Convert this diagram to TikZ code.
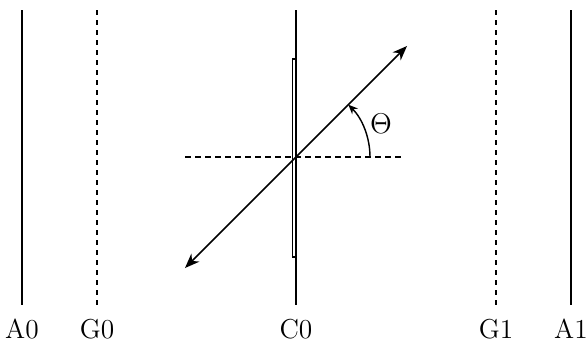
\documentclass[tikz,border=0pt]{standalone}
\usepackage{amsmath}
\usepackage{tikz}
\usetikzlibrary{arrows.meta}
\tikzset{
  wall/.style={line width=0.55pt},
  gapline/.style={line width=0.55pt,dash pattern=on 2.1pt off 2.1pt},
  axisline/.style={line width=0.55pt,dash pattern=on 2.6pt off 1.6pt},
  plate/.style={line width=0.45pt,fill=white},
  beam/.style={{Stealth[length=6.2pt,width=4.8pt]}-{Stealth[length=6.2pt,width=4.8pt]},line width=0.6pt},
  anglearr/.style={-{Stealth[length=4pt,width=3.4pt]},line width=0.6pt},
  lab/.style={inner sep=0pt,font=\fontsize{11.5}{13}\selectfont}
}
\begin{document}
\begin{tikzpicture}[x=0.42pt,y=0.42pt]
  \useasboundingbox (0,0) rectangle (586,346);
  % screens, gratings and the crystal plane
  \foreach \name/\xpos/\sty in {A0/22/wall, G0/97/gapline, C0/296/wall, G1/496/gapline, A1/571/wall} {
    \coordinate (top\name) at (\xpos,336);
    \coordinate (bot\name) at (\xpos,41);
    \node[lab] (\name) at (\xpos,17) {\name};
    \draw[\sty] (top\name) -- (bot\name);
  }
  \coordinate (O) at (296,189);
  \draw[plate] (292.5,89) rectangle (296.5,287);
  \draw[wall] (topC0) -- (botC0);
  % normal and beam direction
  \coordinate (axL) at (185,189);
  \coordinate (axR) at (405,189);
  \draw[axisline] (axL) -- (axR);
  \path (O) ++(225:157) coordinate (tipL);
  \path (O) ++(45:157) coordinate (tipR);
  \draw[beam] (tipL) -- (tipR);
  \path (O) ++(0:74) coordinate (arcS);
  \draw[anglearr] (arcS) arc[start angle=0,end angle=45,radius=74];
  \node[lab] (theta) at (381,222) {$\Theta$};
\end{tikzpicture}
\end{document}
